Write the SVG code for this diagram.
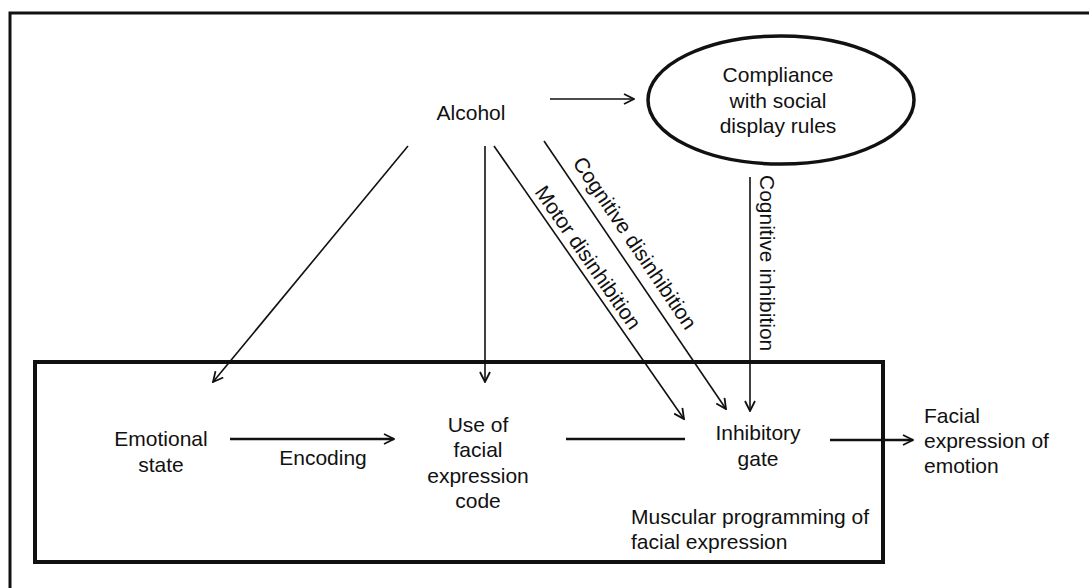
<svg xmlns="http://www.w3.org/2000/svg" width="1089" height="588" viewBox="0 0 1089 588">
<style>
text{font-family:"Liberation Sans",Arial,sans-serif;font-size:21px;fill:#111}
.c{text-anchor:middle}
.ln{stroke:#111;stroke-width:1.6;fill:none}
.th{stroke:#111;stroke-width:2.6;fill:none}
</style>
<defs>
<marker id="ah" viewBox="0 0 12 12" refX="11" refY="6" markerWidth="12" markerHeight="12" markerUnits="userSpaceOnUse" orient="auto">
<path d="M1,1 L11,6 L1,11" fill="none" stroke="#111" stroke-width="1.8"/>
</marker>
</defs>
<rect width="1089" height="588" fill="#fff"/>
<g id="frame">
<path d="M10,588 V13 H1089" fill="none" stroke="#111" stroke-width="3"/>
</g>
<g id="box">
<rect x="35" y="362" width="848" height="200" fill="none" stroke="#111" stroke-width="4"/>
</g>
<g id="connectors">
<line class="ln" x1="550" y1="99" x2="634" y2="99" marker-end="url(#ah)"/>
<line class="ln" x1="408" y1="146" x2="213" y2="382" marker-end="url(#ah)"/>
<line class="ln" x1="485" y1="146" x2="485" y2="382" marker-end="url(#ah)"/>
<line class="ln" x1="494" y1="146" x2="684" y2="419" marker-end="url(#ah)"/>
<line class="ln" x1="544" y1="141" x2="726" y2="409" marker-end="url(#ah)"/>
<line class="ln" x1="750" y1="177" x2="750" y2="411" marker-end="url(#ah)"/>
<line class="th" x1="230" y1="439" x2="394" y2="439" marker-end="url(#ah)"/>
<line class="th" x1="566" y1="439" x2="685" y2="439"/>
<line class="th" x1="830" y1="440" x2="913" y2="440" marker-end="url(#ah)"/>
<text transform="translate(534,192) rotate(55.3)">Motor disinhibition</text>
<text transform="translate(572,163) rotate(55.9)">Cognitive disinhibition</text>
<text transform="translate(760,175) rotate(90)">Cognitive inhibition</text>
<text class="c" x="323" y="465">Encoding</text>
</g>
<g id="alcohol"><text class="c" x="471" y="120">Alcohol</text></g>
<g id="compliance">
<ellipse cx="781" cy="100" rx="133" ry="64" fill="none" stroke="#111" stroke-width="3.5"/>
<text class="c" x="778" y="82">Compliance</text>
<text class="c" x="778" y="108">with social</text>
<text class="c" x="778" y="133">display rules</text>
</g>
<g id="emotional"><text class="c" x="161" y="446">Emotional</text><text class="c" x="161" y="472">state</text></g>
<g id="code"><text class="c" x="478" y="432">Use of</text><text class="c" x="478" y="457">facial</text><text class="c" x="478" y="483">expression</text><text class="c" x="478" y="508">code</text></g>
<g id="gate"><text class="c" x="758" y="440">Inhibitory</text><text class="c" x="758" y="466">gate</text></g>
<g id="output"><text x="924" y="423">Facial</text><text x="924" y="448">expression of</text><text x="924" y="473">emotion</text></g>
<g id="muscular"><text x="631" y="524">Muscular programming of</text><text x="631" y="549">facial expression</text></g>
</svg>
